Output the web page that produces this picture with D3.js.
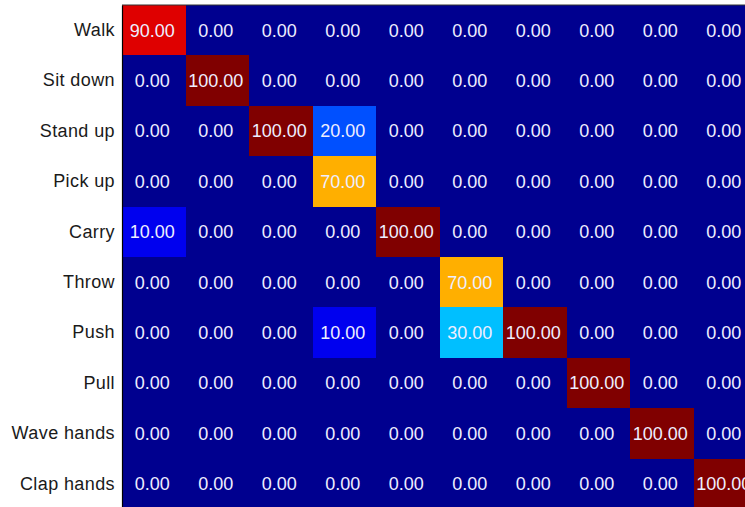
<!DOCTYPE html>
<html><head><meta charset="utf-8">
<script src="https://cdn.jsdelivr.net/npm/d3@7"></script>
<style>html,body{margin:0;padding:0;background:#fff;overflow:hidden}</style>
</head><body>
<svg id="c" width="745" height="507"></svg>
<script>
const categories = ["Walk","Sit down","Stand up","Pick up","Carry","Throw","Push","Pull","Wave hands","Clap hands"];
const values = [
  [90,0,0,0,0,0,0,0,0,0],
  [0,100,0,0,0,0,0,0,0,0],
  [0,0,100,20,0,0,0,0,0,0],
  [0,0,0,70,0,0,0,0,0,0],
  [10,0,0,0,100,0,0,0,0,0],
  [0,0,0,0,0,70,0,0,0,0],
  [0,0,0,10,0,30,100,0,0,0],
  [0,0,0,0,0,0,0,100,0,0],
  [0,0,0,0,0,0,0,0,100,0],
  [0,0,0,0,0,0,0,0,0,100]
];
const colorDomain = [0, 100];

function jet64(v){
  const m = 64;
  let i = Math.floor((v - colorDomain[0])/(colorDomain[1]-colorDomain[0])*m);
  i = Math.max(0, Math.min(m-1, i));
  const t = (i+1)/m;
  const c = z => Math.round(255*Math.max(0, Math.min(1, z)));
  return `rgb(${c(1.5-Math.abs(4*t-3))},${c(1.5-Math.abs(4*t-2))},${c(1.5-Math.abs(4*t-1))})`;
}

const gLeft = 122, gTop = 5, cw = 63.5, ch = 50.4;
const x = d3.scaleBand().domain(categories).range([gLeft, gLeft + cw*categories.length]);
const y = d3.scaleBand().domain(categories).range([gTop, gTop + ch*categories.length]);

const svg = d3.select("#c");
const cells = [];
values.forEach((row, r) => row.forEach((v, c) => cells.push({r: categories[r], c: categories[c], v})));

svg.append("g").attr("shape-rendering", "crispEdges").selectAll("rect").data(cells).join("rect")
  .attr("x", d => Math.round(x(d.c))).attr("y", d => Math.round(y(d.r)))
  .attr("width", d => Math.round(x(d.c) + x.bandwidth()) - Math.round(x(d.c)) + 1)
  .attr("height", d => Math.round(y(d.r) + y.bandwidth()) - Math.round(y(d.r)) + 1)
  .attr("fill", d => jet64(d.v));

svg.append("g").selectAll("text").data(cells).join("text")
  .attr("x", d => x(d.c) + x.bandwidth()/2 - 1.5)
  .attr("y", d => y(d.r) + y.bandwidth()/2)
  .attr("dy", "0.36em")
  .attr("text-anchor", "middle")
  .attr("font-family", "Liberation Sans, Arial, sans-serif")
  .attr("font-size", 18)
  .attr("fill", "#eeeeff")
  .text(d => d.v.toFixed(2));

const yAxis = d3.axisLeft(y).tickSize(0).tickPadding(7);
const ag = svg.append("g").attr("transform", `translate(${gLeft},0)`).call(yAxis);
ag.select(".domain").attr("stroke", "#000").attr("stroke-width", 1.2);
ag.selectAll("text").attr("font-family", "Liberation Sans, Arial, sans-serif").attr("font-size", 18)
  .attr("letter-spacing", "0.4px").attr("fill", "#1a1a1a");

svg.append("line").attr("x1", gLeft).attr("x2", 745).attr("y1", gTop).attr("y2", gTop)
  .attr("stroke", "#333").attr("stroke-width", 1);
</script>
</body></html>
